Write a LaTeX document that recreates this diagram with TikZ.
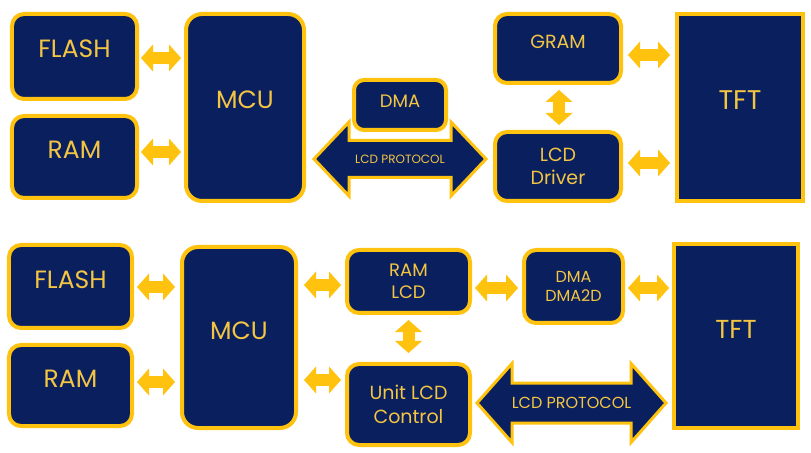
\documentclass[tikz,border=0pt]{standalone}
\usepackage{fontspec}
\setmainfont{Poppins}
\usetikzlibrary{arrows.meta,calc}
\definecolor{navy}{HTML}{0A205E}
\definecolor{gold}{HTML}{FFC20E}
\definecolor{txt}{HTML}{F4C542}
\tikzset{
  box/.style={draw=gold, fill=navy, line width=4bp, rounded corners=12bp, text=txt, align=center, inner sep=0pt},
  sqbox/.style={box, rounded corners=0pt},
  fs/.style 2 args={font=\fontsize{#1bp}{#2bp}\selectfont},
  tup/.style={text depth=#1},
  sarrow/.style={draw=gold, line width=12bp,
    {Triangle[width=27bp,length=12bp,line width=0pt]}-{Triangle[width=27bp,length=12bp,line width=0pt]},
    shorten <=3bp, shorten >=3bp},
  bigarrow/.style={draw=gold, fill=navy, line width=3bp, line join=miter},
  ptext/.style={text=txt, inner sep=0pt},
}
\newcommand\bigdarrow[5]{%
  \draw[bigarrow] (#1) -- ++(#5,-#3) -- ++(0,#3-#4) -- ($(#2)+(-#5,-#4)$) -- ++(0,#4-#3) -- (#2)
    -- ++(-#5,#3) -- ++(0,#4-#3) -- ($(#1)+(#5,#4)$) -- ++(0,#3-#4) -- cycle;}
\begin{document}
\begin{tikzpicture}[x=1bp,y=-1bp]
\fill[white] (0,0) rectangle (811,453);
\useasboundingbox (0,0) rectangle (811,453);
% ---------- top diagram ----------
\node[box, fs={25}{29}, tup=16bp, minimum width=125bp, minimum height=85bp] (flashA) at (74.5,56.5) {FLASH};
\node[box, fs={25}{29}, tup=14bp, minimum width=125bp, minimum height=82bp] (ramA) at (74.5,157) {RAM};
\node[box, rounded corners=16bp, fs={25}{29}, tup=15bp, minimum width=118bp, minimum height=187bp] (mcuA) at (245,107.5) {MCU};
\node[box, rounded corners=10bp, fs={18}{22}, tup=7bp, minimum width=92bp, minimum height=50bp] (dmaA) at (400,105) {DMA};
\node[box, fs={19}{23}, tup=14bp, minimum width=126bp, minimum height=69bp] (gram) at (558,48.5) {GRAM};
\node[box, fs={19}{23}, minimum width=126bp, minimum height=69bp] (drv) at (558,166.5) {LCD\\Driver};
\node[sqbox, fs={27}{32}, tup=15bp, minimum width=126bp, minimum height=187bp] (tftA) at (740,107.5) {TFT};

\draw[sarrow, shorten <=2bp] (flashA.east |- 0,58) -- (mcuA.west |- 0,58);
\draw[sarrow, shorten <=2bp] (ramA.east |- 0,152) -- (mcuA.west |- 0,152);
\draw[sarrow, shorten <=5bp, shorten >=5bp] (gram.east |- 0,55) -- (tftA.west |- 0,55);
\draw[sarrow, shorten <=5bp, shorten >=5bp] (drv.east |- 0,163) -- (tftA.west |- 0,163);
\draw[sarrow, shorten <=5bp, shorten >=5bp] (gram.south -| 559,0) -- (drv.north -| 559,0);

\coordinate (plA) at ([xshift=8bp]mcuA.east |- 0,159);
\coordinate (prA) at ([xshift=-7bp]drv.west |- 0,159);
\bigdarrow{plA}{prA}{37}{18.5}{35}
\node[ptext, fs={12}{14}] (lcdpA) at ($(plA)!0.5!(prA)$) {LCD PROTOCOL};

% ---------- bottom diagram ----------
\node[box, fs={25}{29}, tup=13bp, minimum width=123bp, minimum height=83bp] (flashB) at (70.5,286.5) {FLASH};
\node[box, fs={25}{29}, tup=13bp, minimum width=123bp, minimum height=81bp] (ramB) at (70.5,385.5) {RAM};
\node[box, rounded corners=16bp, fs={25}{29}, tup=13bp, minimum width=114bp, minimum height=181bp] (mcuB) at (239,337.5) {MCU};
\node[box, fs={18}{22}, minimum width=123bp, minimum height=63bp] (ramlcd) at (408.5,281.5) {RAM\\LCD};
\node[box, fs={19}{23.3}, minimum width=123bp, minimum height=81bp] (unit) at (408.5,404.5) {Unit LCD\\Control};
\node[box, fs={16}{18.7}, minimum width=99bp, minimum height=73bp] (dmaB) at (573.5,286.5) {DMA\\DMA2D};
\node[sqbox, fs={26}{31}, tup=14bp, minimum width=124bp, minimum height=184bp] (tftB) at (736,336) {TFT};

\draw[sarrow, shorten >=5bp] (flashB.east |- 0,287) -- (mcuB.west |- 0,287);
\draw[sarrow, shorten >=5bp] (ramB.east |- 0,382) -- (mcuB.west |- 0,382);
\draw[sarrow, shorten <=6bp, shorten >=4bp] (mcuB.east |- 0,285) -- (ramlcd.west |- 0,285);
\draw[sarrow, shorten <=6bp, shorten >=4bp] (mcuB.east |- 0,380) -- (unit.west |- 0,380);
\draw[sarrow, shorten >=4bp] (ramlcd.east |- 0,288) -- (dmaB.west |- 0,288);
\draw[sarrow] (dmaB.east |- 0,288) -- (tftB.west |- 0,288);
\draw[sarrow, shorten <=5bp, shorten >=9bp] (ramlcd.south) -- (unit.north);

\coordinate (plB) at ([xshift=5bp]unit.east |- 0,403);
\coordinate (prB) at ([xshift=-6bp]tftB.west |- 0,403);
\bigdarrow{plB}{prB}{39.5}{20}{35}
\node[ptext, fs={16}{18}] (lcdpB) at ($(plB)!0.5!(prB)$) {LCD PROTOCOL};
\end{tikzpicture}
\end{document}
